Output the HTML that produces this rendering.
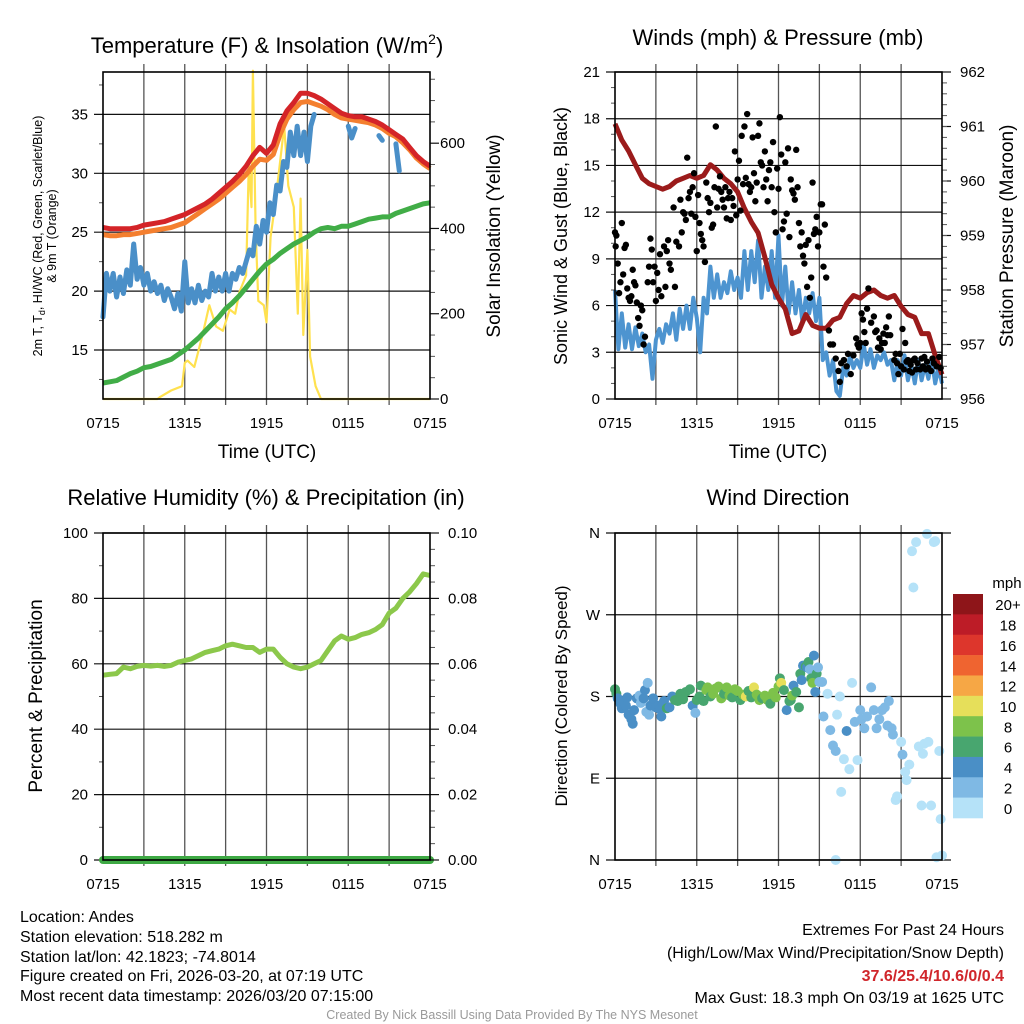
<!DOCTYPE html>
<html><head><meta charset="utf-8"><title>Mesonet Station Chart</title>
<style>
html,body{margin:0;padding:0;background:#fff;}
svg{display:block;font-family:"Liberation Sans",Arial,sans-serif;}
.tk{font-size:15px;fill:#000;}
.ttl{font-size:22px;fill:#000;}
.ax{font-size:19px;fill:#000;}
.ft{font-family:"Liberation Sans Narrow","Liberation Sans",sans-serif;font-size:16px;fill:#000;}
</style></head><body>
<svg id="chart" width="1024" height="1024" viewBox="0 0 1024 1024">
<g id="grids"></g>
<g id="marks"></g>
<g id="frames"></g>
<text class="ttl" x="267" y="53" text-anchor="middle">Temperature (F) &amp; Insolation (W/m<tspan dy="-9" font-size="14">2</tspan><tspan dy="9">)</tspan></text>
<text class="ttl" x="778" y="45" text-anchor="middle">Winds (mph) &amp; Pressure (mb)</text>
<text class="ttl" x="266" y="505" text-anchor="middle">Relative Humidity (%) &amp; Precipitation (in)</text>
<text class="ttl" x="778" y="505" text-anchor="middle">Wind Direction</text>
<text class="ax" x="267" y="458" text-anchor="middle">Time (UTC)</text>
<text class="ax" x="778" y="458" text-anchor="middle">Time (UTC)</text>
<text x="0" y="0" font-size="12.5" text-anchor="middle" transform="translate(42,236) rotate(-90)">2m T, T<tspan dy="3" font-size="9">d</tspan><tspan dy="-3">, HI/WC (Red, Green, Scarlet/Blue)</tspan></text>
<text x="0" y="0" font-size="12.5" text-anchor="middle" transform="translate(56,236) rotate(-90)">&amp; 9m T (Orange)</text>
<text class="ax" x="0" y="0" text-anchor="middle" transform="translate(500,236) rotate(-90)">Solar Insolation (Yellow)</text>
<text x="0" y="0" font-size="18" text-anchor="middle" transform="translate(567,236) rotate(-90)">Sonic Wind &amp; Gust (Blue, Black)</text>
<text class="ax" x="0" y="0" text-anchor="middle" transform="translate(1013,236) rotate(-90)">Station Pressure (Maroon)</text>
<text class="ax" x="0" y="0" text-anchor="middle" transform="translate(42,696) rotate(-90)">Percent &amp; Precipitation</text>
<text x="0" y="0" font-size="17" text-anchor="middle" transform="translate(567,696) rotate(-90)">Direction (Colored By Speed)</text>
<g id="colorbar"></g>
<text x="1007" y="588" font-size="15" text-anchor="middle">mph</text>
<text class="ft" x="20" y="922">Location: Andes</text>
<text class="ft" x="20" y="942">Station elevation: 518.282 m</text>
<text class="ft" x="20" y="962">Station lat/lon: 42.1823; -74.8014</text>
<text class="ft" x="20" y="981">Figure created on Fri, 2026-03-20, at 07:19 UTC</text>
<text class="ft" x="20" y="1001">Most recent data timestamp: 2026/03/20 07:15:00</text>
<text class="ft" x="1004" y="935" text-anchor="end">Extremes For Past 24 Hours</text>
<text class="ft" x="1004" y="958" text-anchor="end">(High/Low/Max Wind/Precipitation/Snow Depth)</text>
<text class="ft" x="1004" y="981" text-anchor="end" font-weight="bold" style="fill:#d0262b">37.6/25.4/10.6/0/0.4</text>
<text class="ft" x="1004" y="1003" text-anchor="end">Max Gust: 18.3 mph On 03/19 at 1625 UTC</text>
<text x="512" y="1019" font-size="12.5" text-anchor="middle" style="fill:#9a9a9a;font-family:'Liberation Sans Narrow','Liberation Sans',sans-serif">Created By Nick Bassill Using Data Provided By The NYS Mesonet</text>
</svg>
<script>
// ---------- data ----------
const xTickLabels = ["0715","1315","1915","0115","0715"];
const halfHours = [0,0.5,1,1.5,2,2.5,3,3.5,4,4.5,5,5.5,6,6.5,7,7.5,8,8.5,9,9.5,10,10.5,11,11.5,12,12.5,13,13.5,14,14.5,15,15.5,16,16.5,17,17.5,18,18.5,19,19.5,20,20.5,21,21.5,22,22.5,23,23.5,24];
const quarterHours = [0,0.25,0.5,0.75,1,1.25,1.5,1.75,2,2.25,2.5,2.75,3,3.25,3.5,3.75,4,4.25,4.5,4.75,5,5.25,5.5,5.75,6,6.25,6.5,6.75,7,7.25,7.5,7.75,8,8.25,8.5,8.75,9,9.25,9.5,9.75,10,10.25,10.5,10.75,11,11.25,11.5,11.75,12,12.25,12.5,12.75,13,13.25,13.5,13.75,14,14.25,14.5,14.75,15,15.25,15.5,15.75,16,16.25,16.5,16.75,17,17.25,17.5,17.75,18,18.25,18.5,18.75,19,19.25,19.5,19.75,20,20.25,20.5,20.75,21,21.25,21.5,21.75,22,22.25,22.5,22.75,23,23.25,23.5,23.75,24];
const tempRed = [25.4,25.3,25.3,25.3,25.3,25.4,25.6,25.7,25.8,25.9,26.1,26.3,26.5,26.8,27.1,27.4,27.8,28.3,28.8,29.3,29.9,30.6,31.5,32.2,31.7,32.4,34.2,35.3,36.0,36.8,36.8,36.6,36.3,35.9,35.5,35.1,34.9,34.8,34.8,34.6,34.4,34.1,33.7,33.3,32.9,32.2,31.5,31.0,30.6];
const tempOrange = [24.8,24.7,24.7,24.8,24.8,24.9,25.0,25.1,25.2,25.3,25.4,25.6,25.8,26.2,26.6,27.0,27.4,27.8,28.3,28.8,29.3,29.9,30.6,31.2,31.1,31.6,33.3,34.6,35.4,36.0,36.1,35.9,35.7,35.4,35.0,34.7,34.6,34.5,34.4,34.3,34.1,33.8,33.4,33.1,32.6,32.0,31.3,30.8,30.4];
const tempBlue = [17.8,21.5,20,21.5,19.5,21.2,19.8,21.8,20.5,24,21,22,20.5,21.5,20,20.8,19.8,20.5,19.2,20.2,19.5,18.5,19.8,18.3,22.5,19,20.2,19,20.5,19.2,20,19.5,21.5,20,21.2,20,21.5,20,21.5,21,22,21.5,22.5,23.5,23,25.5,24,26,25,27.5,26.5,29,28.5,31,30.5,33.5,31.5,34,31.5,33.5,31,34,35,null,null,null,null,null,null,null,null,null,34,33,33.8,null,null,null,null,null,null,33.2,32.8,null,null,null,32.5,30.2,null,null,null,null,null,null,null,null,null];
const tempGreen = [12.2,12.3,12.4,12.7,13.0,13.2,13.5,13.6,13.8,14.0,14.2,14.6,15.0,15.5,16.0,16.6,17.2,17.8,18.5,19.0,19.6,20.3,21.0,21.7,22.3,22.7,23.2,23.6,24.0,24.3,24.6,25.0,25.3,25.4,25.3,25.5,25.5,25.7,25.9,26.1,26.2,26.3,26.3,26.6,26.8,27.0,27.2,27.4,27.5];
const solarTimes = [0,4,4.2,5,5.8,6,6.2,6.7,7.3,7.8,8.3,8.8,9.3,9.7,10,10.5,10.7,10.9,11,11.2,11.4,11.8,12,12.3,12.6,12.9,13.3,13.6,14,14.3,14.5,14.7,15,15.2,15.6,16,24];
const solarValues = [0,0,5,20,30,85,90,75,150,220,170,160,210,200,250,290,550,450,770,400,230,220,180,380,450,530,640,500,450,200,470,150,350,100,30,0,0];
const windBlue = [7,3.2,5.5,3.3,4.8,3.2,4.6,3.4,4.2,3.0,3.5,1.3,3.8,4.5,3.6,4.8,4.2,5.5,3.8,5.8,4.5,6,4.5,6.5,5.2,3.0,6.5,5.5,8.5,6.5,8,6.5,7.5,6.8,8.2,7,7.8,6.5,9.5,7,9.5,7.5,10.2,6.5,8.5,7,9.5,6.5,10.5,6,8.5,5.5,7.5,5.5,7,5,6.5,5.5,6.8,5,6.5,2.5,3,1.5,2.5,0.5,0.2,2,1.5,2.8,2,2.5,2,3.5,2.2,3.2,2,2.8,2.5,3,2.2,2.5,1.2,2.5,1.5,2.8,1.2,2.2,1,2.5,1.2,2.2,1.3,2.5,1,2,1];
const pressure = [961.05,960.75,960.55,960.3,960.05,959.95,959.9,959.85,959.9,960.0,960.05,960.1,960.05,960.1,960.3,960.2,960.05,959.95,959.8,959.5,959.25,959.05,958.6,958.1,957.85,957.65,957.2,957.25,957.55,957.35,957.3,957.3,957.45,957.5,957.75,957.9,957.85,957.95,958.0,957.9,957.85,957.9,957.7,957.55,957.5,957.2,957.2,956.8,956.45];
const gustTimes = [0,0.05,0.1,0.2,0.3,0.4,0.5,0.6,0.7,0.8,0.9,1,1.1,1.2,1.3,1.4,1.5,1.6,1.7,1.8,1.9,2,2.1,2.2,2.4,2.5,2.6,2.7,2.8,2.9,3,3.1,3.2,3.3,3.4,3.6,3.7,3.8,3.9,4,4.1,4.3,4.4,4.5,4.7,4.8,4.9,5,5.1,5.2,5.3,5.4,5.5,5.6,5.7,5.8,5.9,6,6.1,6.2,6.3,6.4,6.5,6.6,6.7,6.8,6.9,7,7.1,7.2,7.3,7.4,7.5,7.6,7.7,7.8,7.9,8,8.1,8.2,8.3,8.4,8.5,8.6,8.7,8.8,8.9,9,9.1,9.2,9.3,9.4,9.5,9.6,9.7,9.8,9.9,10,10.1,10.2,10.3,10.4,10.5,10.6,10.7,10.8,10.9,11,11.1,11.2,11.3,11.4,11.5,11.6,11.7,11.8,11.9,12,12.1,12.2,12.3,12.4,12.5,12.6,12.7,12.8,12.9,13,13.1,13.2,13.3,13.4,13.5,13.6,13.7,13.8,13.9,14,14.1,14.2,14.3,14.4,14.5,14.6,14.7,14.8,14.9,15,15.1,15.2,15.3,15.4,15.5,15.7,15.8,16,16.2,16.4,16.5,16.6,16.8,17,17.1,17.3,17.5,17.7,17.8,17.9,18,18.1,18.2,18.3,18.4,18.5,18.6,18.8,19,19.1,19.2,19.3,19.4,19.5,19.6,19.7,19.8,19.9,20,20.1,20.2,20.5,20.6,20.7,20.8,20.9,21,21.1,21.2,21.3,21.4,21.5,21.6,21.7,21.8,21.9,22,22.1,22.2,22.4,22.5,22.6,22.7,22.8,22.9,23,23.2,23.3,23.4,23.6,23.8,23.9];
const gustValues = [10.7,9.8,10.5,8.7,6.8,7.5,11.3,8,9.7,9.9,7.1,6.5,6.3,6.6,8.3,7.5,7.3,6.2,5.2,4.7,6,5.7,3.5,4,7.5,8.5,10.3,9.6,7.5,8.5,6.3,8.1,7,9.3,6.6,9.8,7.2,9.5,10.2,8.7,8.3,12.3,7.2,10.1,9.8,12.8,10.7,12,11.9,11.5,15.5,12.9,13.3,11.9,13.6,14.5,11.7,9.5,13.1,11.3,10.6,10.2,9.8,8.8,13.9,12.9,12,12.6,11,11.2,13.6,17.5,12.3,13.5,14.3,13.3,12.8,12.3,13.6,11.6,12.9,13.3,11.5,12.9,12.4,15.9,11.8,14.1,15.3,12.1,16.9,13.8,17.5,14.2,18.3,13.8,13.3,13.6,16.8,14.5,12.7,13.9,16.9,17.7,15.2,15,13.6,15.9,14.1,12.7,14.7,15.2,13.6,16.5,12,10.7,14.8,13.5,18.1,15.7,10.9,11.4,15.2,11.9,16.1,10.4,14.1,13.4,13.2,12.8,16,13.6,11.3,9.8,10.7,9.2,8.7,9.9,7.2,10.2,6.5,7.8,13.9,10.6,10.9,11.7,9.8,10.7,12.5,12.5,8.5,11.2,7.8,4.4,3.5,3.5,2.6,1.8,1.1,2.3,2.5,2.1,2.9,1.6,2.8,3.9,3.5,3.3,3.6,5.5,5.1,4.3,3.6,5.8,7.1,4.9,5.3,4.3,4.4,3.3,3.9,3.2,3.6,4.2,3.6,4.6,4.1,5.3,4.1,2.5,2.9,2.3,1.6,2.9,2.1,4.5,1.9,3.6,2.4,2.5,1.8,2.2,1.7,2.5,2.6,1.9,2.3,1.9,2.6,2.1,2.7,1.9,2.4,2,1.8,2.6,2.3,2.1,2.7,2];
const humidity = [56.5,56.8,57,59,58.5,59.2,59.5,59.3,59.5,59.2,59.5,60.5,61,61.5,62.5,63.5,64,64.5,65.5,66,65.5,65,65,63.5,64.5,64.5,62,60,59,58.5,59,60,61,64,67,68.5,67.5,68,69,69.5,70.5,72,75.5,77,80,82,84.5,87.5,87];
const precip = [0,0];
const precipTimes = [0,24];
const dirTimes = [0,0.1,0.2,0.4,0.5,0.6,0.8,0.9,1,1.2,1.3,1.4,1.6,1.8,1.9,2.1,2.2,2.3,2.4,2.5,2.6,2.8,3,3.2,3.3,3.4,3.5,3.6,3.8,4,4.2,4.4,4.6,4.8,5,5.2,5.5,5.7,5.9,6,6.2,6.3,6.5,6.7,6.8,7,7.2,7.4,7.6,7.8,8,8.2,8.4,8.6,8.8,9,9.2,9.4,9.6,9.8,10,10.2,10.4,10.6,10.8,11,11.2,11.4,11.6,11.8,12,12.1,12.2,12.4,12.6,12.8,12.9,13,13.1,13.3,13.5,13.6,13.7,13.8,14,14.1,14.2,14.3,14.4,14.5,14.6,14.7,14.8,14.9,15,15.2,15.3,15.6,15.8,16,16.2,16.3,16.5,16.6,16.8,17,17.2,17.4,17.6,17.8,18,18.1,18.3,18.5,18.8,19,19.2,19.4,19.6,19.8,20,20.1,20.3,20.4,20.6,20.7,21,21.1,21.3,21.4,21.6,21.8,21.9,22.1,22.3,22.5,22.6,22.7,22.9,23,23.2,23.4,23.5,23.6,23.8,23.9,24,16.2];
const dirValues = [188,183,178,172,167,175,170,179,160,155,150,165,178,181,173,178,187,163,195,160,170,178,168,170,166,158,172,175,167,168,180,176,175,183,177,185,188,170,162,176,180,192,175,187,190,180,183,189,191,178,183,190,181,179,188,186,176,182,180,186,179,190,182,176,178,181,176,172,184,179,191,200,195,187,165,175,176,181,192,185,168,205,198,214,213,212,218,210,200,195,225,185,205,212,196,196,158,183,143,126,120,160,180,75,111,142,100,195,152,110,165,155,145,158,190,165,145,155,165,168,148,175,145,138,66,70,130,116,97,88,105,340,300,350,125,60,117,128,359,130,60,350,351,3,120,45,5,0];
const dirSpeeds = [6,6,4,4,4,4,4,4,4,4,4,4,4,3,3,4,4,3,2,3,4,4,4,4,4,4,4,4,6,4,4,6,6,6,6,6,6,4,3,6,6,6,6,8,8,6,8,8,8,8,6,8,8,6,8,8,6,8,10,6,6,10,8,8,6,8,8,6,8,8,8,6,10,6,4,6,6,8,4,6,6,6,4,4,6,4,6,2,6,8,4,4,6,2,2,2,2,0,2,2,2,0,0,0,0,4,0,0,2,0,2,2,2,2,2,2,2,2,2,2,2,2,2,2,0,0,0,2,0,0,0,0,0,0,0,0,0,0,0,0,0,0,0,0,0,0,0,0];
const speedBins = ["0","2","4","6","8","10","12","14","16","18","20+"];
const speedColors = ["#b5e2f8","#7fb9e4","#4a8fc6","#48a66f","#7dc24b","#e6df5a","#f6a745","#ef6430","#dd362c","#bd1c27","#8e1519"];

// ---------- helpers ----------
const NS = "http://www.w3.org/2000/svg";
function mk(tag, attrs, parent){const e=document.createElementNS(NS,tag);for(const k in attrs)e.setAttribute(k,attrs[k]);document.getElementById(parent).appendChild(e);return e;}
function linScale(d0,d1,r0,r1){return v=>r0+(v-d0)/(d1-d0)*(r1-r0);}
const P = {
  temp:{x0:103,x1:430,y0:72,y1:399},
  wind:{x0:615,x1:942,y0:72,y1:399},
  rh:{x0:103,x1:430,y0:533,y1:860},
  dir:{x0:615,x1:942,y0:533,y1:860}
};
function xs(p){return linScale(0,24,p.x0,p.x1);}

function drawFrame(p, name, leftTicks, leftLabels, ly, minorL, rightTicks, rightLabels, ry, minorR){
  const X=xs(p);
  for(let h=3;h<24;h+=3){
    const g=mk("line",{x1:X(h),x2:X(h),y1:p.y0-8,y2:p.y1+6,stroke:"#555","stroke-width":1.3},"grids");
    
    
  }
  leftTicks.forEach((v,i)=>{
    const y=ly(v);
    const g=mk("line",{x1:p.x0-9,x2:p.x1+(rightTicks?0:9),y1:y,y2:y,stroke:"#111","stroke-width":1.2},"grids");
    
    
    const t=mk("text",{x:p.x0-15,y:y+5,"text-anchor":"end",class:"tk"},"frames");
    t.textContent=leftLabels[i];
    
    
  });
  (minorL||[]).forEach(v=>{
    const y=ly(v);
    const m=mk("line",{x1:p.x0-4,x2:p.x0,y1:y,y2:y,stroke:"#555","stroke-width":1},"frames");
    
    
  });
  if(rightTicks){
    rightTicks.forEach((v,i)=>{
      const y=ry(v);
      const m=mk("line",{x1:p.x1,x2:p.x1+9,y1:y,y2:y,stroke:"#111","stroke-width":1.2},"frames");
      
      
      const t=mk("text",{x:p.x1+(name==="temp"?10:18),y:y+5,class:"tk"},"frames");
      t.textContent=rightLabels[i];
      
      
    });
    (minorR||[]).forEach(v=>{
      const y=ry(v);
      const m=mk("line",{x1:p.x1,x2:p.x1+5,y1:y,y2:y,stroke:"#555","stroke-width":1},"frames");
      
      
    });
  }
  xTickLabels.forEach((l,i)=>{
    const x=X(i*6);
    const t=mk("text",{x:x,y:p.y1+29,"text-anchor":"middle",class:"tk"},"frames");
    t.textContent=l;
    
    
  });
  const b=mk("rect",{x:p.x0,y:p.y0,width:p.x1-p.x0,height:p.y1-p.y0,fill:"none",stroke:"#000","stroke-width":1.6},"frames");
  
  
}
function pathFrom(times, vals, X, Y){
  let d="", pen=false;
  for(let i=0;i<times.length;i++){
    const v=vals[i];
    if(v===null||v===undefined){pen=false;continue;}
    d+=(pen?"L":"M")+X(times[i]).toFixed(1)+","+Y(v).toFixed(1);
    pen=true;
  }
  return d;
}

// ---------- panel 1 ----------
{
  const p=P.temp, X=xs(p);
  const Y=linScale(10.84,38.6,p.y1,p.y0), YR=linScale(0,767,p.y1,p.y0);
  drawFrame(p,"temp",[15,20,25,30,35],["15","20","25","30","35"],Y,[12.5,17.5,22.5,27.5,32.5,37.5],[0,200,400,600],["0","200","400","600"],YR,[50,100,150,250,300,350,450,500,550,650,700,750]);
  const sol=mk("path",{d:pathFrom(solarTimes,solarValues,X,YR),fill:"none",stroke:"#ffe14f","stroke-width":2.2,"stroke-linejoin":"round"},"marks");
  
  
  const g=mk("path",{d:pathFrom(halfHours,tempGreen,X,Y),fill:"none",stroke:"#41ad47","stroke-width":5,"stroke-linejoin":"round"},"marks");
  
  
  const bl=mk("path",{d:pathFrom(quarterHours,tempBlue,X,Y),fill:"none",stroke:"#4a8fc8","stroke-width":5,"stroke-linejoin":"round","stroke-linecap":"round"},"marks");
  
  
  const o=mk("path",{d:pathFrom(halfHours,tempOrange,X,Y),fill:"none",stroke:"#f47f2f","stroke-width":5,"stroke-linejoin":"round"},"marks");
  
  
  const r=mk("path",{d:pathFrom(halfHours,tempRed,X,Y),fill:"none",stroke:"#d42428","stroke-width":5,"stroke-linejoin":"round"},"marks");
  
  
}
// ---------- panel 2 ----------
{
  const p=P.wind, X=xs(p);
  const Y=linScale(0,21,p.y1,p.y0), YR=linScale(956,962,p.y1,p.y0);
  const minL=[];for(let v=1;v<21;v++){if(v%3)minL.push(v);}
  const minR=[];for(let v=956.2;v<962;v+=0.2){minR.push(+v.toFixed(1));}
  drawFrame(p,"wind",[0,3,6,9,12,15,18,21],["0","3","6","9","12","15","18","21"],Y,minL,[956,957,958,959,960,961,962],["956","957","958","959","960","961","962"],YR,minR);
  const b=mk("path",{d:pathFrom(quarterHours,windBlue,X,Y),fill:"none",stroke:"#4d94d0","stroke-width":4,"stroke-linejoin":"round"},"marks");
  
  
  const pr=mk("path",{d:pathFrom(halfHours,pressure,X,YR),fill:"none",stroke:"#9b1b1b","stroke-width":5,"stroke-linejoin":"round"},"marks");
  
  
  gustTimes.forEach((t,i)=>{
    const c=mk("circle",{cx:X(t),cy:Y(gustValues[i]),r:3.2,fill:"#000"},"marks");
    
    
  });
}
// ---------- panel 3 ----------
{
  const p=P.rh, X=xs(p);
  const Y=linScale(0,100,p.y1,p.y0), YR=linScale(0,0.1,p.y1,p.y0);
  drawFrame(p,"rh",[0,20,40,60,80,100],["0","20","40","60","80","100"],Y,[10,30,50,70,90],[0,0.02,0.04,0.06,0.08,0.1],["0.00","0.02","0.04","0.06","0.08","0.10"],YR,[0.005,0.01,0.015,0.025,0.03,0.035,0.045,0.05,0.055,0.065,0.07,0.075,0.085,0.09,0.095]);
  const h=mk("path",{d:pathFrom(halfHours,humidity,X,Y),fill:"none",stroke:"#8cc84b","stroke-width":5,"stroke-linejoin":"round"},"marks");
  
  
  const pc=mk("path",{d:pathFrom(precipTimes,precip,X,YR),fill:"none",stroke:"#3ea944","stroke-width":8,"stroke-linecap":"round"},"marks");
  
  
}
// ---------- panel 4 ----------
{
  const p=P.dir, X=xs(p);
  const Y=linScale(0,360,p.y1,p.y0);
  drawFrame(p,"dir",[0,90,180,270,360],["N","E","S","W","N"],Y,[],null,null,null,null);
  dirTimes.forEach((t,i)=>{
    const bin=Math.min(10,Math.floor(dirSpeeds[i]/2));
    const c=mk("circle",{cx:X(t),cy:Y(dirValues[i]),r:5,fill:speedColors[bin]},"marks");
    
    
  });
  const top=594, bh=(818-594)/speedBins.length;
  speedBins.forEach((lab,i)=>{
    const k=speedBins.length-1-i;
    const r=mk("rect",{x:953,y:top+i*bh,width:30,height:bh+0.3,fill:speedColors[k]},"colorbar");
    
    
    const t=mk("text",{x:1008,y:top+i*bh+bh/2+6,"text-anchor":"middle",class:"tk"},"colorbar");
    t.textContent=speedBins[k];
    
    
  });
}
</script>
</body></html>
